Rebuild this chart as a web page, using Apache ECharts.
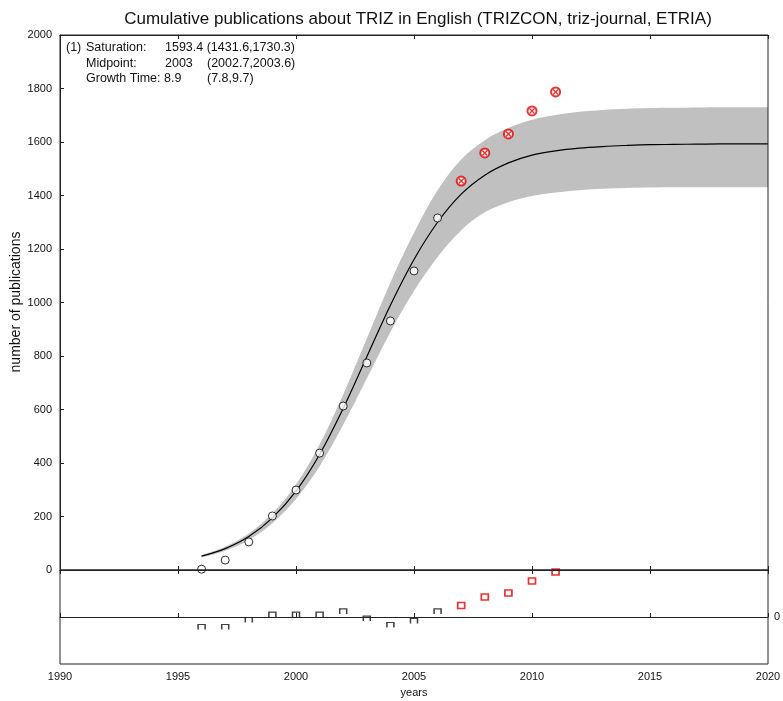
<!DOCTYPE html>
<html><head><meta charset="utf-8">
<script src="https://cdn.jsdelivr.net/npm/echarts@6/dist/echarts.min.js"></script>
<style>html,body{margin:0;padding:0;background:#fff}#c{width:783px;height:701px}</style>
</head><body><div id="c"></div>
<script>
// ---- data ----
const fitYears = [1996,1997,1998,1999,2000,2001,2002,2003,2004,2005,2006,2007,2008,2009,2010,2011,2012,2013,2014,2015,2016,2017,2018,2019,2020];
const fitValues = [52,80,125,195,295,432,604,797,990,1161,1300,1405,1476,1522,1551,1567,1577,1583,1587,1590,1591,1592,1593,1593,1593];
const bandUpper = [56,87,136,212,320,469,656,865,1075,1261,1420,1535,1607,1652,1683,1701,1713,1720,1724,1727,1728,1729,1730,1730,1730];
const bandLower = [47,72,112,175,265,388,543,716,890,1043,1170,1270,1337,1375,1398,1411,1420,1425,1428,1430,1431,1431,1431,1431,1431];
const obsYears = [1996,1997,1998,1999,2000,2001,2002,2003,2004,2005,2006];
const obsValues = [3,37,105,202,299,437,613,774,931,1118,1316];
const newYears = [2007,2008,2009,2010,2011];
const newValues = [1454,1559,1630,1716,1787];
const residYears = [1996,1997,1998,1999,2000,2001,2002,2003,2004,2005,2006];
const residValues = [-50,-50,-15,12,12,12,28,-8,-40,-20,28];
const residNewYears = [2007,2008,2009,2010,2011];
const residNewValues = [57,100,120,180,225];
const yTicks = [0,200,400,600,800,1000,1200,1400,1600,1800,2000];
const xTicks = [1990,1995,2000,2005,2010,2015,2020];

const FONT = 'Liberation Sans, Arial, sans-serif';
const pairs = (xs, ys) => xs.map((x, i) => [x, ys[i]]);

const chart = echarts.init(document.getElementById('c'), null, {renderer: 'canvas'});
const axisLine = {show: true, lineStyle: {color: '#222', width: 1}};
const xBase = {type: 'value', min: xTicks[0], max: xTicks[xTicks.length-1], interval: 5, splitLine: {show: false}, z: 10,
  axisLine: axisLine, axisTick: {show: true, inside: true, length: 4, lineStyle: {color: '#222'}}};
const plain = v => String(v);
const AF = '12.5px ' + FONT;

chart.setOption({
  animation: false,
  textStyle: {fontFamily: FONT},
  title: {text: 'Cumulative publications about TRIZ in English (TRIZCON, triz-journal, ETRIA)', left: 413, top: 6, textAlign: 'center',
    textStyle: {fontFamily: FONT, fontSize: 17, fontWeight: 'normal', color: '#111'}},
  grid: [
    {left: 60, top: 35, width: 708, height: 535, show: true, borderColor: '#222', borderWidth: 1, backgroundColor: 'transparent', outerBoundsMode: 'none', containLabel: false, z: 10},
    {left: 60, top: 570, width: 708, height: 94, show: true, borderColor: '#222', borderWidth: 1, backgroundColor: 'transparent', outerBoundsMode: 'none', containLabel: false, z: 10}
  ],
  xAxis: [
    Object.assign({}, xBase, {gridIndex: 0, position: 'bottom', axisLabel: {show: false}}),
    Object.assign({}, xBase, {gridIndex: 0, position: 'top', axisLabel: {show: false}}),
    Object.assign({}, xBase, {gridIndex: 1, position: 'bottom',
      axisLabel: {show: true, fontSize: 11, color: '#111', fontFamily: FONT, margin: 7, formatter: plain},
      name: 'years', nameLocation: 'middle', nameGap: 23, nameTextStyle: {fontSize: 11, color: '#111', fontFamily: FONT}}),
    Object.assign({}, xBase, {gridIndex: 1, position: 'top', axisLabel: {show: false},
      axisLine: {show: true, onZero: true, lineStyle: {color: '#222', width: 1}}})
  ],
  yAxis: [
    {type: 'value', gridIndex: 0, min: yTicks[0], max: yTicks[yTicks.length-1], interval: 200, splitLine: {show: false}, z: 10,
      axisLine: axisLine, axisTick: {show: true, inside: true, length: 4, lineStyle: {color: '#222'}},
      axisLabel: {fontSize: 11, color: '#111', fontFamily: FONT, margin: 8, formatter: plain}},
    {type: 'value', gridIndex: 1, position: 'right', min: -235, max: 235, interval: 235, splitLine: {show: false},
      axisLine: {show: false}, axisTick: {show: false},
      axisLabel: {fontSize: 11, color: '#111', fontFamily: FONT, margin: 6, formatter: v => (v === 0 ? '0' : '')}}
  ],
  graphic: [
    {type: 'text', x: 16, y: 302, rotation: Math.PI / 2,
      style: {text: 'number of publications', font: '14px ' + FONT, fill: '#111', align: 'center', verticalAlign: 'middle'}},
    {type: 'text', left: 66, top: 41, style: {text: '(1)', font: AF, fill: '#111'}},
    {type: 'text', left: 86, top: 41, style: {text: 'Saturation:', font: AF, fill: '#111'}},
    {type: 'text', left: 165, top: 41, style: {text: '1593.4 (1431.6,1730.3)', font: AF, fill: '#111'}},
    {type: 'text', left: 86, top: 57, style: {text: 'Midpoint:', font: AF, fill: '#111'}},
    {type: 'text', left: 165, top: 57, style: {text: '2003', font: AF, fill: '#111'}},
    {type: 'text', left: 207, top: 57, style: {text: '(2002.7,2003.6)', font: AF, fill: '#111'}},
    {type: 'text', left: 86, top: 72, style: {text: 'Growth Time: 8.9', font: AF, fill: '#111'}},
    {type: 'text', left: 207, top: 72, style: {text: '(7.8,9.7)', font: AF, fill: '#111'}},
    {type: 'text', right: 24, top: 549, style: {text: '90% CR varying Saturation', font: AF, fill: '#111'}}
  ],
  series: [
    {type: 'line', xAxisIndex: 0, yAxisIndex: 0, data: pairs(fitYears, bandUpper), smooth: 0.35,
      showSymbol: false, symbol: 'none', lineStyle: {width: 0, opacity: 0}, areaStyle: {color: '#c0c0c0', opacity: 1, origin: 'start'}, silent: true, z: 1},
    {type: 'line', xAxisIndex: 0, yAxisIndex: 0, data: pairs(fitYears, bandLower), smooth: 0.35,
      showSymbol: false, symbol: 'none', lineStyle: {width: 0, opacity: 0}, areaStyle: {color: '#ffffff', opacity: 1, origin: 'start'}, silent: true, z: 1},
    {type: 'line', xAxisIndex: 0, yAxisIndex: 0, data: pairs(fitYears, fitValues), smooth: 0.35,
      showSymbol: false, symbol: 'none', lineStyle: {color: '#000', width: 1.2}, z: 3},
    {type: 'scatter', xAxisIndex: 0, yAxisIndex: 0, data: pairs(obsYears, obsValues), symbol: 'circle', symbolSize: 8,
      itemStyle: {color: '#fff', borderColor: '#000', borderWidth: 1}, z: 4},
    {type: 'scatter', xAxisIndex: 0, yAxisIndex: 0, data: pairs(newYears, newValues), symbol: 'circle', symbolSize: 9,
      itemStyle: {color: '#fff', borderColor: '#e00000', borderWidth: 2}, z: 4},
    {type: 'scatter', xAxisIndex: 0, yAxisIndex: 0, data: pairs(newYears, newValues), symbol: 'path://M0,0L10,10M10,0L0,10', symbolSize: 5,
      itemStyle: {color: 'none', borderColor: '#e00000', borderWidth: 1.3}, z: 5},
    {type: 'scatter', xAxisIndex: 2, yAxisIndex: 1, data: pairs(residYears, residValues), symbol: 'path://M0,10L0,0L10,0L10,10', symbolSize: [7, 5],
      itemStyle: {color: 'none', borderColor: '#111', borderWidth: 1.3}, z: 4,
      markLine: {silent: true, symbol: 'none', label: {show: false}, lineStyle: {color: '#222', width: 1, type: 'solid'}, data: [{yAxis: 0}]}},
    {type: 'scatter', xAxisIndex: 2, yAxisIndex: 1, data: pairs(residNewYears, residNewValues), symbol: 'rect', symbolSize: [7, 6],
      itemStyle: {color: '#fff', borderColor: '#e00000', borderWidth: 1.6}, z: 4}
  ]
});
</script></body></html>
